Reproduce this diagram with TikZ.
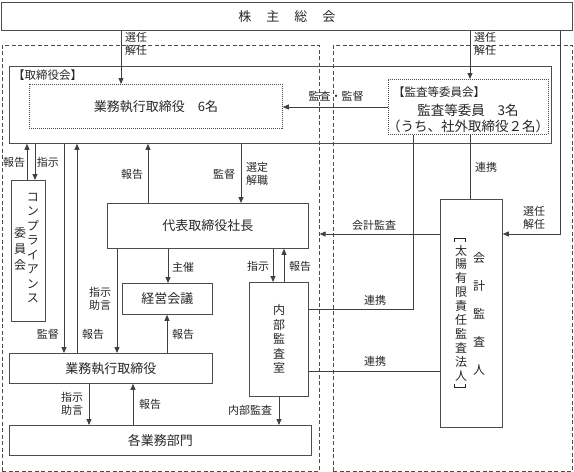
\documentclass[tikz,border=0pt]{standalone}
\usepackage{fontspec}
\newfontfamily\jp{Noto Sans CJK JP}
\usetikzlibrary{arrows.meta}
\begin{document}
\begin{tikzpicture}[x=1pt,y=-1pt,
 box/.style={draw=black!70, line width=0.8pt, inner sep=0pt, anchor=north west, font=\jp\fontsize{13}{15}\selectfont, text=black!85},
 dotbox/.style={box, dash pattern=on 1pt off 1pt},
 dashbox/.style={draw=black!70, line width=0.7pt, dash pattern=on 4pt off 2.5pt, inner sep=0pt, anchor=north west},
 lbl/.style={font=\jp\fontsize{11}{13}\selectfont, inner sep=0pt, text=black!85, align=center},
 vt/.style={font=\jp\fontsize{12}{14.5}\selectfont, inner sep=0pt, text=black!85, align=center},
 conn/.style={draw=black!75, line width=0.8pt},
 arr/.style={conn, -{Triangle[length=6pt,width=5pt]}},
 brk/.style={draw=black!85, line width=0.7pt},
 ]
\useasboundingbox (0,0) rectangle (574,472);
% frames
\node[dashbox, minimum width=317pt, minimum height=426pt] (ldash) at (2,45) {};
\node[dashbox, minimum width=239pt, minimum height=426pt] (rdash) at (333,45) {};
\node[box, minimum width=571pt, minimum height=28pt] (sh) at (1,2) {株\hspace{15pt}主\hspace{15pt}総\hspace{15pt}会};
\node[box, minimum width=542pt, minimum height=77pt] (tb) at (9,66) {};
\node[lbl, anchor=west, font=\jp\fontsize{11.5}{13}\selectfont] (tbl) at (13,75) {【取締役会】};
\node[dotbox, minimum width=253pt, minimum height=44pt] (gyo6) at (29,84) {業務執行取締役\hspace{13pt}6名};
\node[dotbox, minimum width=160pt, minimum height=55pt] (kansa) at (388,79) {};
\node[lbl, anchor=west, font=\jp\fontsize{11.5}{13}\selectfont] (kansal) at (393,92) {【監査等委員会】};
\node[inner sep=0pt, font=\jp\fontsize{13.5}{16}\selectfont, text=black!85, align=center] (kansat) at (468,118) {監査等委員\hspace{13pt}3名\\（うち、社外取締役２名）};
\node[box, minimum width=34pt, minimum height=141pt] (comp) at (11,180) {};
\node[vt] (compt1) at (33,248) {コ\\ン\\プ\\ラ\\イ\\ア\\ン\\ス};
\node[vt, font=\jp\fontsize{12}{16}\selectfont] (compt2) at (20,249) {委\\員\\会};
\node[box, minimum width=201pt, minimum height=45pt] (daihyo) at (107,203) {代表取締役社長};
\node[box, minimum width=90pt, minimum height=31pt] (keiei) at (122,283) {経営会議};
\node[box, minimum width=59pt, minimum height=114pt] (naibu) at (249,282) {};
\node[vt] (naibut) at (279,339) {内\\部\\監\\査\\室};
\node[box, minimum width=62pt, minimum height=228pt] (kaikei) at (440,199) {};
\node[vt, font=\jp\fontsize{12}{28}\selectfont] (kaikeit1) at (479,314) {会\\計\\監\\査\\人};
\node[vt, font=\jp\fontsize{12}{13.9}\selectfont] (kaikeit2) at (461,313) {太\\陽\\有\\限\\責\\任\\監\\査\\法\\人};
\draw[brk] (kaikeit2.north west) ++(0,-3) -- ++(0,-3) -- ++(11,0) -- ++(0,3);
\draw[brk] (kaikeit2.south west) ++(0,3) -- ++(0,3) -- ++(11,0) -- ++(0,-3);
\node[box, minimum width=203pt, minimum height=30pt] (gyo) at (9,353) {業務執行取締役};
\node[box, minimum width=302pt, minimum height=30pt] (bumon) at (9,425) {各業務部門};
% connectors
\draw[arr] (sh.south -| 121,0) -- (gyo6.north -| 121,0);
\draw[arr] (sh.south -| 470,0) -- (kansa.north -| 470,0);
\draw[arr] (kansa.west |- 0,107) -- (gyo6.east |- 0,107);
\draw[arr] (sh.south -| 560,0) -- (560,234) -- (kaikei.east |- 0,234);
\draw[arr] (comp.north -| 27,0) -- (tb.south -| 27,0);
\draw[arr] (tb.south -| 35,0) -- (comp.north -| 35,0);
\draw[arr] (tb.south -| 64,0) -- (gyo.north -| 64,0);
\draw[arr] (gyo.north -| 77,0) -- (tb.south -| 77,0);
\draw[arr] (daihyo.north -| 148,0) -- (tb.south -| 148,0);
\draw[arr] (tb.south -| 241,0) -- (daihyo.north -| 241,0);
\draw[conn] (kansa.south -| 413,0) -- (413,309) -- (naibu.east |- 0,309);
\draw[conn] (kansa.south -| 470,0) -- (kaikei.north -| 470,0);
\draw[arr] (kaikei.west |- 0,234) -- (ldash.east |- 0,234);
\draw[arr] (daihyo.south -| 117,0) -- (gyo.north -| 117,0);
\draw[arr] (daihyo.south -| 168,0) -- (keiei.north -| 168,0);
\draw[arr] (daihyo.south -| 273,0) -- (naibu.north -| 273,0);
\draw[arr] (naibu.north -| 284,0) -- (daihyo.south -| 284,0);
\draw[arr] (gyo.north -| 167,0) -- (keiei.south -| 167,0);
\draw[arr] (gyo.south -| 89,0) -- (bumon.north -| 89,0);
\draw[arr] (bumon.north -| 133,0) -- (gyo.south -| 133,0);
\draw[arr] (naibu.south -| 279,0) -- (bumon.north -| 279,0);
\draw[conn] (naibu.east |- 0,371) -- (kaikei.west |- 0,371);
% labels
\node[lbl, anchor=west] (l1) at (125,44) {選任\\解任};
\node[lbl, anchor=west] (l2) at (474,44) {選任\\解任};
\node[lbl] (l3) at (336,96) {監査・監督};
\node[lbl] (l4) at (14,162) {報告};
\node[lbl] (l5) at (48,162) {指示};
\node[lbl] (l6) at (132,174) {報告};
\node[lbl] (l7) at (224,174) {監督};
\node[lbl] (l8) at (257,174) {選定\\解職};
\node[lbl] (l9) at (486,167) {連携};
\node[lbl] (l10) at (374,225) {会計監査};
\node[lbl] (l11) at (534,218) {選任\\解任};
\node[lbl] (l12) at (183,267) {主催};
\node[lbl] (l13) at (258,266) {指示};
\node[lbl] (l14) at (300,266) {報告};
\node[lbl] (l15) at (100,299) {指示\\助言};
\node[lbl] (l16) at (375,300) {連携};
\node[lbl] (l17) at (48,334) {監督};
\node[lbl] (l18) at (93,334) {報告};
\node[lbl] (l19) at (183,334) {報告};
\node[lbl] (l20) at (375,361) {連携};
\node[lbl] (l21) at (72,404) {指示\\助言};
\node[lbl] (l22) at (150,404) {報告};
\node[lbl] (l23) at (250,410) {内部監査};
\end{tikzpicture}
\end{document}
